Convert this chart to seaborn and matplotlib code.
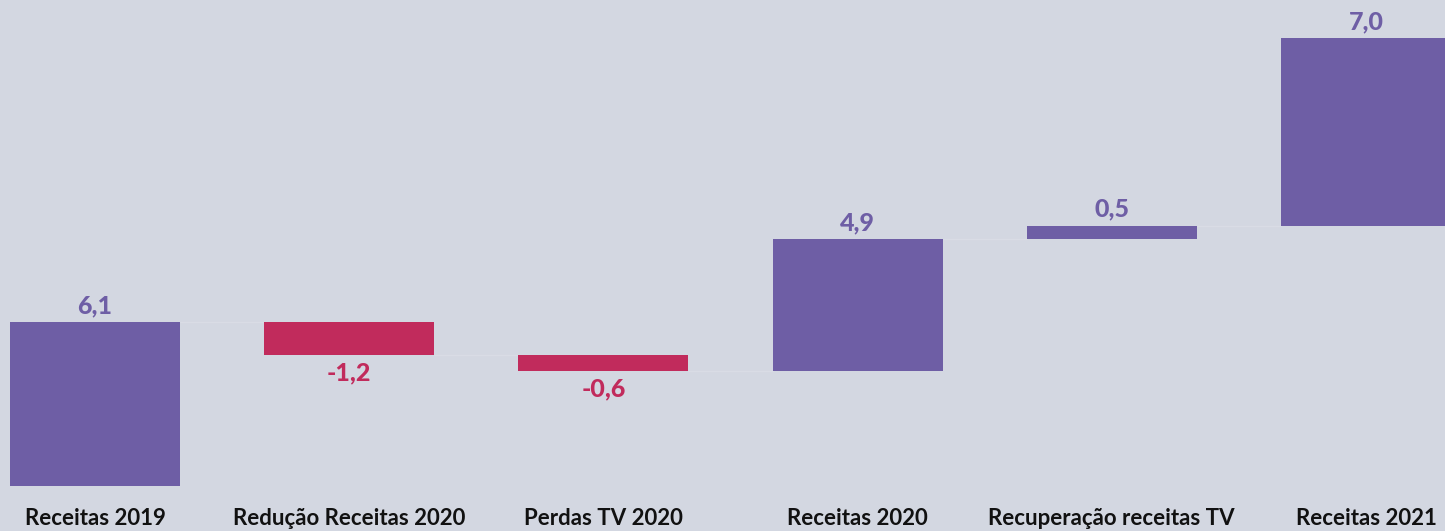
import numpy as np
import matplotlib
matplotlib.use("Agg")
import matplotlib.pyplot as plt
import seaborn as sns

# data
categories = ['Receitas 2019', 'Redução Receitas 2020', 'Perdas TV 2020',
              'Receitas 2020', 'Recuperação receitas TV', 'Receitas 2021']
values = [6.1, -1.2, -0.6, 4.9, 0.5, 7.0]
labels = ['6,1', '-1,2', '-0,6', '4,9', '0,5', '7,0']

purple = '#6E5EA5'
red = '#C12B5C'
bg = '#D3D7E1'
colors = [purple if v > 0 else red for v in values]

# each bar starts where the previous one ended
ends = np.cumsum(values)
starts = ends - np.array(values)

sns.set_theme(style='white')
plt.rcParams['font.family'] = ['Lato', 'DejaVu Sans']

fig = plt.figure(figsize=(14.45, 5.31), dpi=100)
fig.patch.set_facecolor(bg)
ax = fig.add_axes([0, 0, 1, 1])
ax.set_facecolor(bg)

sns.barplot(x=categories, y=values, bottom=starts, color=purple,
            width=0.669, ax=ax, saturation=1, linewidth=0)
for patch, c in zip(ax.patches, colors):
    patch.set_facecolor(c)

# faint connectors
half = 0.669 / 2
for i in range(len(values) - 1):
    ax.plot([i + half, i + 1 - half], [ends[i], ends[i]],
            color='#D9DCE5', lw=1.0, zorder=0)

# value labels
for i, (v, lab) in enumerate(zip(values, labels)):
    top = max(starts[i], ends[i])
    bot = min(starts[i], ends[i])
    if v > 0:
        ax.text(i, top + 0.2, lab, ha='center', va='bottom', color=purple,
                fontsize=18, fontweight='black')
    else:
        ax.text(i, bot - 0.25, lab, ha='center', va='top', color=red,
                fontsize=18, fontweight='black')

# category labels
for i, c in enumerate(categories):
    ax.text(i, -1.2, c, ha='center', va='center', color='#111111',
            fontsize=16, fontweight='bold')

ax.set_xlim(-0.374, 5.311)
ax.set_ylim(-1.68, 18.13)
ax.axis('off')

fig.savefig('out.png', dpi=100, facecolor=bg)
